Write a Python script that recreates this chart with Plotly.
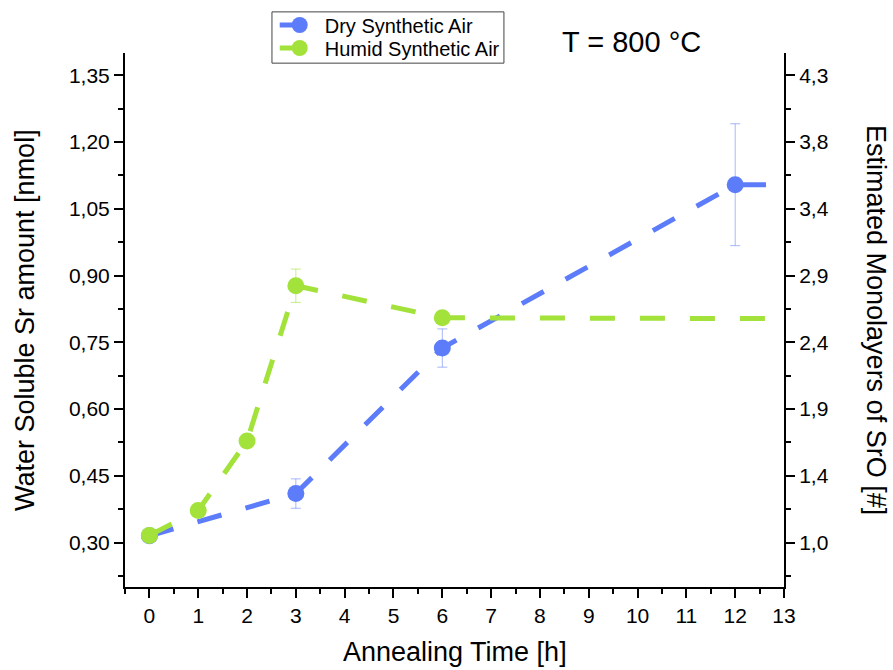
import plotly.graph_objects as go

# ---- data ----
time_dry = [0, 3, 6, 12, 24]          # 24 h point lies beyond the visible axis range
sr_dry = [0.315, 0.410, 0.737, 1.104, 1.104]
err_dry = [0.0, 0.033, 0.043, 0.137, 0.0]

time_humid = [0, 1, 2, 3, 6, 24]
sr_humid = [0.316, 0.372, 0.528, 0.877, 0.805, 0.800]
err_humid = [0.0, 0.0, 0.0, 0.0375, 0.0, 0.0]

left_tickvals = [0.30, 0.45, 0.60, 0.75, 0.90, 1.05, 1.20, 1.35]
right_ticktext = ["1,0", "1,4", "1,9", "2,4", "2,9", "3,4", "3,8", "4,3"]
x_ticks = list(range(0, 14))

BLUE = "#5C7CFA"
GREEN = "#A2E23A"
FONT = "Arial, Liberation Sans, sans-serif"

fig = go.Figure()
fig.add_trace(go.Scatter(
    x=time_dry, y=sr_dry, name="Dry Synthetic Air", mode="lines+markers",
    line=dict(color=BLUE, width=5, dash="25px,25px"),
    marker=dict(color=BLUE, size=17),
    error_y=dict(type="data", array=err_dry, visible=True, color="rgba(92,124,250,0.55)",
                 thickness=1, width=5),
    legend="legend",
))
fig.add_trace(go.Scatter(
    x=time_humid, y=sr_humid, name="Humid Synthetic Air", mode="lines+markers",
    line=dict(color=GREEN, width=5, dash="25px,25px"),
    marker=dict(color=GREEN, size=17),
    error_y=dict(type="data", array=err_humid, visible=True, color="rgba(162,226,58,0.6)",
                 thickness=1, width=5),
    legend="legend2",
))
# invisible trace to activate right axis
fig.add_trace(go.Scatter(x=[0], y=[0.3], yaxis="y2", showlegend=False,
                         mode="markers", marker=dict(opacity=0), hoverinfo="skip"))

axis_common = dict(showline=True, linecolor="black", linewidth=2, ticks="outside",
                   ticklen=9, tickwidth=2, tickcolor="black", showgrid=False, zeroline=False,
                   tickfont=dict(family=FONT, size=21, color="black"))
minor_y = dict(dtick=0.075, tick0=0.225, ticks="outside", ticklen=5, tickwidth=2, tickcolor="black")

legend_common = dict(xanchor="left", yanchor="middle", bgcolor="rgba(0,0,0,0)", borderwidth=0,
                     font=dict(family=FONT, size=20, color="black"), itemwidth=40)

fig.update_layout(
    width=893, height=670,
    margin=dict(l=125, r=109, t=53, b=83, autoexpand=False),
    plot_bgcolor="white", paper_bgcolor="white",
    separators=",.",
    font=dict(family=FONT, color="black"),
    xaxis=dict(range=[-0.5, 13], tickmode="array", tickvals=x_ticks,
               minor=dict(dtick=0.5, tick0=0, ticks="outside", ticklen=5, tickwidth=2, tickcolor="black"),
               **axis_common),
    yaxis=dict(range=[0.2, 1.4], tickmode="array", tickvals=left_tickvals, tickformat=".2f",
               minor=minor_y, **axis_common),
    yaxis2=dict(range=[0.2, 1.4], overlaying="y", side="right", anchor="x",
                tickmode="array", tickvals=left_tickvals, ticktext=right_ticktext,
                minor=minor_y, **axis_common),
    legend=dict(x=0.2272, y=1.0524, **legend_common),
    legend2=dict(x=0.2272, y=1.0094, **legend_common),
    showlegend=True,
    shapes=[dict(type="rect", xref="paper", yref="paper",
                 x0=0.223, x1=0.575, y0=0.981, y1=1.077,
                 line=dict(color="#444", width=1), fillcolor="rgba(0,0,0,0)", layer="above")],
    annotations=[
        dict(text="T = 800 °C", x=0.769, y=1.0206, xref="paper", yref="paper",
             xanchor="center", yanchor="middle",
             showarrow=False, font=dict(family=FONT, size=29, color="black")),
        dict(text="Annealing Time [h]", x=0.5, y=-0.1217, xref="paper", yref="paper",
             xanchor="center", yanchor="middle",
             showarrow=False, font=dict(family=FONT, size=27, color="black")),
        dict(text="Water Soluble Sr amount [nmol]", x=-0.1517, y=0.5, xref="paper", yref="paper",
             xanchor="center", yanchor="middle",
             textangle=-90, showarrow=False, font=dict(family=FONT, size=27, color="black")),
        dict(text="Estimated Monolayers of SrO [#]", x=1.1396, y=0.5, xref="paper", yref="paper",
             xanchor="center", yanchor="middle",
             textangle=90, showarrow=False, font=dict(family=FONT, size=27, color="black")),
    ],
)

fig.write_html("out.html")
